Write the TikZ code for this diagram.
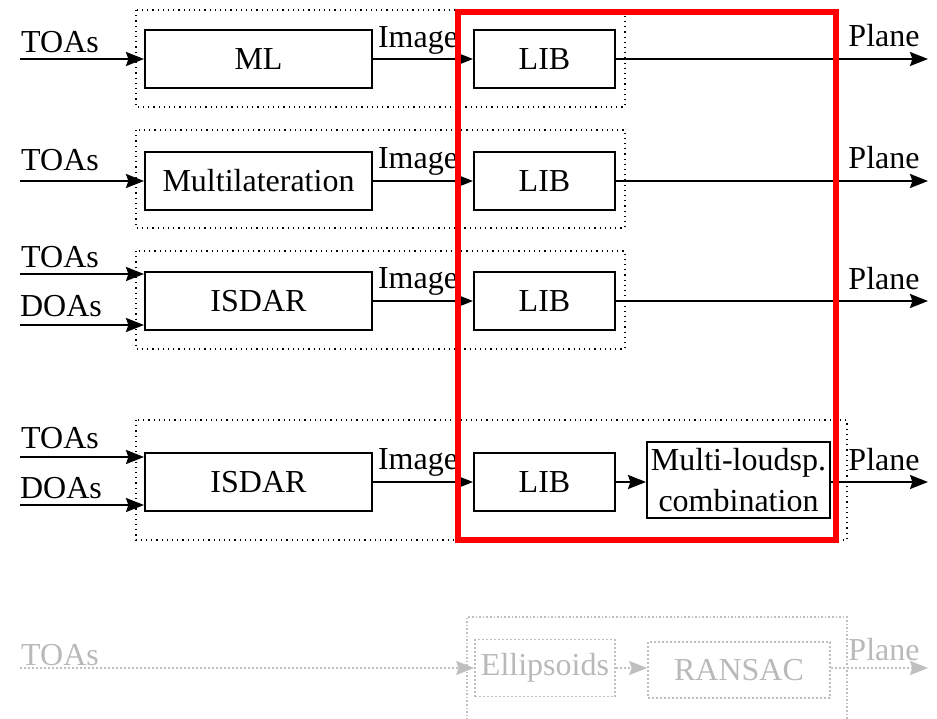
\documentclass[tikz,border=0pt]{standalone}
\usepackage{fontspec}
\setmainfont{Liberation Serif}
\usetikzlibrary{arrows.meta}
\begin{document}
\begin{tikzpicture}[x=0.5pt,y=-0.5pt,
  font=\fontsize{16}{19}\selectfont,
  blk/.style={draw,line width=1pt,inner sep=0pt,minimum height=29pt},
  wide/.style={blk,minimum width=113.5pt},
  lib/.style={blk,minimum width=70.5pt},
  grp/.style={draw,line width=0.6pt,dotted},
  tip/.style={-{Stealth[length=9pt,width=7pt,inset=1.2pt]}},
  flow/.style={line width=1pt,tip},
  lbl/.style={inner sep=0pt},
  ghost/.style={draw=gray!50,text=gray!55,densely dotted,line width=0.8pt},
  ghostflow/.style={gray!50,densely dotted,line width=1pt,tip},
  hl/.style={draw=red,line width=2.6pt}]
\useasboundingbox (0,0) rectangle (937,718);

% --- chain 1: ML ---
\draw[grp] (136,10) rectangle (625,107);
\node[wide] (ml) at (258.5,59) {ML};
\node[lib] (lib1) at (544.5,59) {LIB};
\coordinate (in1) at (20,59);
\coordinate (out1) at (928,59);
\draw[flow] (in1) -- (ml);
\draw[flow] (ml) -- (lib1);
\draw[flow] (lib1) -- (out1);
\node[lbl] (toa1) at (60,42) {TOAs};
\node[lbl] (img1) at (418,40) {Image};
\node[lbl] (pl1) at (884,36) {Plane};

% --- chain 2: multilateration ---
\draw[grp] (136,130) rectangle (625,228);
\node[wide] (mlat) at (258.5,181) {Multilateration};
\node[lib] (lib2) at (544.5,181) {LIB};
\coordinate (in2) at (20,181);
\coordinate (out2) at (928,181);
\draw[flow] (in2) -- (mlat);
\draw[flow] (mlat) -- (lib2);
\draw[flow] (lib2) -- (out2);
\node[lbl] (toa2) at (60,160) {TOAs};
\node[lbl] (img2) at (418,161) {Image};
\node[lbl] (pl2) at (884,158) {Plane};

% --- chain 3: ISDAR ---
\draw[grp] (136,251) rectangle (625,349);
\node[wide] (isd3) at (258.5,301) {ISDAR};
\node[lib] (lib3) at (544.5,301) {LIB};
\coordinate (ta3) at (20,274);
\coordinate (da3) at (20,325);
\coordinate (out3) at (928,301);
\draw[flow] (ta3) -- (ta3 -| isd3.west);
\draw[flow] (da3) -- (da3 -| isd3.west);
\draw[flow] (isd3) -- (lib3);
\draw[flow] (lib3) -- (out3);
\node[lbl] (toa3) at (60,257) {TOAs};
\node[lbl] (doa3) at (61,306) {DOAs};
\node[lbl] (img3) at (418,281) {Image};
\node[lbl] (pl3) at (884,279) {Plane};

% --- chain 4: ISDAR with multi-loudspeaker combination ---
\draw[grp] (136,420) rectangle (847,540);
\node[wide] (isd4) at (258.5,482) {ISDAR};
\node[lib] (lib4) at (544.5,482) {LIB};
\node[blk,minimum width=91.5pt,minimum height=38pt,align=center] (comb) at (738.5,480)
  {Multi-loudsp.\\[1.5pt]combination};
\coordinate (ta4) at (20,457);
\coordinate (da4) at (20,505);
\coordinate (out4) at (928,482);
\draw[flow] (ta4) -- (ta4 -| isd4.west);
\draw[flow] (da4) -- (da4 -| isd4.west);
\draw[flow] (isd4) -- (lib4);
\draw[flow] (lib4) -- (lib4 -| comb.west);
\draw[flow] (comb.east |- out4) -- (out4);
\node[lbl] (toa4) at (60,438) {TOAs};
\node[lbl] (doa4) at (61,488) {DOAs};
\node[lbl] (img4) at (418,462) {Image};
\node[lbl] (pl4) at (884,460) {Plane};

% --- greyed-out chain: ellipsoids + RANSAC ---
\draw[ghost] (467,720) |- (847,617) -- (847,720);
\node[blk,ghost,minimum width=70pt,minimum height=28.5pt] (ell) at (545,668) {Ellipsoids};
\node[blk,ghost,minimum width=91pt,minimum height=28pt] (ran) at (739,670) {RANSAC};
\coordinate (in5) at (20,668);
\coordinate (out5) at (928,668);
\draw[ghostflow] (in5) -- (ell);
\draw[ghostflow] (ell) -- (ell -| ran.west);
\draw[ghostflow] (ran.east |- out5) -- (out5);
\node[lbl,text=gray!55] (toa5) at (60,655) {TOAs};
\node[lbl,text=gray!55] (pl5) at (884,650) {Plane};

% --- highlight frame ---
\draw[hl] (458,12) rectangle (836,540);
\end{tikzpicture}
\end{document}
